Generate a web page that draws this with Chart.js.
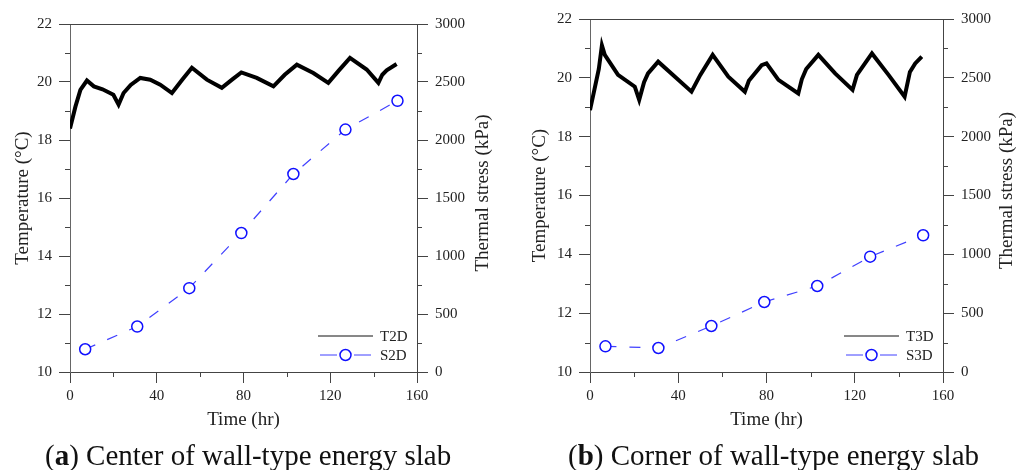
<!DOCTYPE html>
<html lang="en">
<head>
<meta charset="UTF-8">
<title>Wall-type energy slab - temperature and thermal stress</title>
<script src="https://cdn.jsdelivr.net/npm/chart.js"></script>
<style>
body {
  margin: 0;
  background: #fff;
  font-family: 'Liberation Serif', 'Times New Roman', serif;
}
.wrap {
  position: relative;
  width: 1017px;
  height: 470px;
  overflow: hidden;
}
.wrap canvas {
  position: absolute;
  top: 0;
}
#chartA { left: 0; }
#chartB { left: 509px; }
.caption {
  position: absolute;
  top: 441px;
  font-size: 29px;
  line-height: 1;
  color: #111;
  white-space: nowrap;
}
</style>
</head>
<body>

<div class="wrap">
  <canvas id="chartA" width="508" height="440"></canvas>
  <canvas id="chartB" width="508" height="440"></canvas>
  <div class="caption" style="left:45px">(<b>a</b>) Center of wall-type energy slab</div>
  <div class="caption" style="left:568px">(<b>b</b>) Corner of wall-type energy slab</div>
</div>

<script>
// (a) centre of slab - temperature trace
const t2dTime = [0, 2.5, 4.8, 7.8, 11, 15, 20, 22.4, 24.7, 28, 32.4, 37, 41.6, 47, 52, 56.2, 63.1, 70, 75, 79,
  86.1, 93.8, 99, 104.6, 112.2, 119.1, 124, 129.1, 136.8, 142.2, 144, 146, 150.6];
const t2dTemp = [18.4, 19.15, 19.73, 20.05, 19.85, 19.75, 19.56, 19.22, 19.62, 19.9, 20.14, 20.08, 19.91, 19.62, 20.1, 20.49, 20.08, 19.8, 20.1, 20.33,
  20.14, 19.85, 20.25, 20.6, 20.31, 19.97, 20.4, 20.83, 20.43, 19.97, 20.25, 20.4, 20.62];
// (a) thermal stress
const s2dTime = [7, 31, 55, 79, 103, 127, 151];
const s2dStress = [196, 392, 723, 1198, 1707, 2090, 2338];

// (b) corner of slab
const t3dTime = [0, 2, 4, 5.4, 6.7, 12.7, 20.3, 22.3, 24.5, 26.3, 30.9, 38.5, 46, 50, 55.6, 62.7, 70.2, 72, 77.8, 80,
  85.4, 94.4, 96, 98, 103.5, 111.1, 119, 121, 127.8, 135.3, 142.6, 145, 147.4, 150.4];
const t3dTemp = [18.9, 19.6, 20.3, 21.1, 20.78, 20.1, 19.7, 19.25, 19.85, 20.15, 20.55, 20.04, 19.53, 20.1, 20.78, 20.04, 19.53, 19.9, 20.43, 20.49,
  19.93, 19.47, 19.95, 20.3, 20.78, 20.15, 19.59, 20.1, 20.83, 20.1, 19.36, 20.2, 20.49, 20.72];
const s3dTime = [7, 31, 55, 79, 103, 127, 151];
const s3dStress = [218, 204, 391, 595, 731, 980, 1162];

// axis ranges / ticks
const timeMin = 0, timeMax = 160, timeStep = 20, timeLabelStep = 40;
const tempMin = 10, tempMax = 22, tempStep = 1, tempLabelStep = 2;
const stressMin = 0, stressMax = 3000, stressStep = 250, stressLabelStep = 500;

const FONT = "'Liberation Serif', 'Times New Roman', serif";
const INK = '#222';
const AXIS = '#444';
const BLUE_LINE = '#4040ff';
const BLUE_PT = '#1010ff';

const toXY = (xs, ys) => xs.map((x, i) => ({ x: x, y: ys[i] }));
const isMajor = (v, step) => Math.abs(v / step - Math.round(v / step)) < 1e-6;

// minor ticks (shorter), top frame line, right axis title, in-plot legend
const extrasPlugin = {
  id: 'extras',
  afterDraw(chart, args, opts) {
    const { ctx, chartArea: a, scales } = chart;
    ctx.save();
    ctx.strokeStyle = AXIS;
    ctx.lineWidth = 1;
    ctx.beginPath();
    ctx.moveTo(a.left, a.top + 0.5);
    ctx.lineTo(a.right, a.top + 0.5);
    for (let v = timeMin; v <= timeMax; v += timeStep) {
      if (isMajor(v, timeLabelStep)) continue;
      const px = Math.round(scales.x.getPixelForValue(v)) + 0.5;
      ctx.moveTo(px, a.bottom);
      ctx.lineTo(px, a.bottom + 5);
    }
    for (let v = tempMin; v <= tempMax; v += tempStep) {
      if (isMajor(v, tempLabelStep)) continue;
      const py = Math.round(scales.y.getPixelForValue(v)) + 0.5;
      ctx.moveTo(a.left, py);
      ctx.lineTo(a.left - 5, py);
    }
    for (let v = stressMin; v <= stressMax; v += stressStep) {
      if (isMajor(v, stressLabelStep)) continue;
      const py = Math.round(scales.y2.getPixelForValue(v)) + 0.5;
      ctx.moveTo(a.right, py);
      ctx.lineTo(a.right + 5, py);
    }
    ctx.stroke();

    // right axis title, reading bottom to top
    ctx.fillStyle = INK;
    ctx.font = '19px ' + FONT;
    ctx.textAlign = 'center';
    ctx.textBaseline = 'middle';
    ctx.translate(opts.rightTitleX, (a.top + a.bottom) / 2 - 5);
    ctx.rotate(-Math.PI / 2);
    ctx.fillText('Thermal stress (kPa)', 0, 0);
    ctx.restore();

    // legend
    const ds = chart.data.datasets;
    ctx.save();
    ctx.font = '15px ' + FONT;
    ctx.textAlign = 'left';
    ctx.textBaseline = 'middle';
    ctx.fillStyle = INK;
    const x0 = a.right - 99;
    let y = a.bottom - 36;
    ctx.strokeStyle = '#111';
    ctx.lineWidth = 1;
    ctx.beginPath();
    ctx.moveTo(x0, y);
    ctx.lineTo(x0 + 55, y);
    ctx.stroke();
    ctx.fillText(ds[0].label, a.right - 37, y + 1);
    y = a.bottom - 17;
    ctx.strokeStyle = BLUE_LINE;
    ctx.beginPath();
    ctx.moveTo(x0 + 2, y);
    ctx.lineTo(x0 + 19, y);
    ctx.moveTo(x0 + 36, y);
    ctx.lineTo(x0 + 53, y);
    ctx.stroke();
    ctx.strokeStyle = BLUE_PT;
    ctx.lineWidth = 1.5;
    ctx.beginPath();
    ctx.arc(x0 + 27.5, y, 5.5, 0, Math.PI * 2);
    ctx.stroke();
    ctx.fillText(ds[1].label, a.right - 37, y + 1);
    ctx.restore();
  }
};

function makePanel(id, geo, tTime, tTemp, sTime, sStress, tName, sName) {
  const canvas = document.getElementById(id);
  const W = canvas.width, H = canvas.height;
  new Chart(canvas, {
    type: 'line',
    data: {
      datasets: [
        {
          label: tName,
          data: toXY(tTime, tTemp),
          yAxisID: 'y',
          borderColor: '#000',
          borderWidth: 4,
          pointRadius: 0,
          tension: 0
        },
        {
          label: sName,
          data: toXY(sTime, sStress),
          yAxisID: 'y2',
          borderColor: BLUE_LINE,
          borderWidth: 1.2,
          borderDash: [11, 13],
          pointRadius: 5.5,
          pointBorderWidth: 1.5,
          pointBorderColor: BLUE_PT,
          pointBackgroundColor: '#fff',
          tension: 0
        }
      ]
    },
    options: {
      responsive: false,
      animation: false,
      devicePixelRatio: 1,
      layout: { padding: { top: geo.top, left: 0, right: 0, bottom: 0 } },
      plugins: {
        legend: { display: false },
        tooltip: { enabled: false },
        extras: { rightTitleX: geo.rightTitleX }
      },
      scales: {
        x: {
          type: 'linear',
          min: timeMin,
          max: timeMax,
          afterFit: s => { s.height = H - geo.bottom; },
          ticks: {
            stepSize: timeStep,
            autoSkip: false,
            maxRotation: 0,
            padding: 4,
            color: INK,
            font: { family: FONT, size: 15 },
            callback: v => isMajor(v, timeLabelStep) ? v : ''
          },
          grid: {
            drawOnChartArea: false,
            tickLength: 11,
            tickColor: c => (c.tick && isMajor(c.tick.value, timeLabelStep)) ? AXIS : 'rgba(0,0,0,0)'
          },
          border: { color: AXIS, width: 1 },
          title: {
            display: true,
            text: 'Time (hr)',
            color: INK,
            font: { family: FONT, size: 19 },
            padding: { top: 0, bottom: 9 }
          }
        },
        y: {
          position: 'left',
          min: tempMin,
          max: tempMax,
          afterFit: s => { s.width = geo.left; },
          ticks: {
            stepSize: tempStep,
            autoSkip: false,
            padding: 7,
            color: INK,
            font: { family: FONT, size: 15 },
            callback: v => isMajor(v, tempLabelStep) ? v : ''
          },
          grid: {
            drawOnChartArea: false,
            tickLength: 11,
            tickColor: c => (c.tick && isMajor(c.tick.value, tempLabelStep)) ? AXIS : 'rgba(0,0,0,0)'
          },
          border: { color: '#666', width: 1 },
          title: {
            display: true,
            text: 'Temperature (\u00B0C)',
            color: INK,
            font: { family: FONT, size: 19 },
            padding: { top: geo.leftTitlePad, bottom: 0 }
          }
        },
        y2: {
          position: 'right',
          min: stressMin,
          max: stressMax,
          afterFit: s => { s.width = W - geo.right; },
          ticks: {
            stepSize: stressStep,
            autoSkip: false,
            padding: 7,
            color: INK,
            font: { family: FONT, size: 15 },
            callback: v => isMajor(v, stressLabelStep) ? v : ''
          },
          grid: {
            drawOnChartArea: false,
            tickLength: 11,
            tickColor: c => (c.tick && isMajor(c.tick.value, stressLabelStep)) ? AXIS : 'rgba(0,0,0,0)'
          },
          border: { color: AXIS, width: 1 }
        }
      }
    },
    plugins: [extrasPlugin]
  });
}

makePanel('chartA', { left: 70, right: 417, top: 24, bottom: 372, leftTitlePad: 12, rightTitleX: 483 },
  t2dTime, t2dTemp, s2dTime, s2dStress, 'T2D', 'S2D');
makePanel('chartB', { left: 81, right: 434, top: 19, bottom: 372, leftTitlePad: 20, rightTitleX: 498 },
  t3dTime, t3dTemp, s3dTime, s3dStress, 'T3D', 'S3D');
</script>

</body>
</html>
